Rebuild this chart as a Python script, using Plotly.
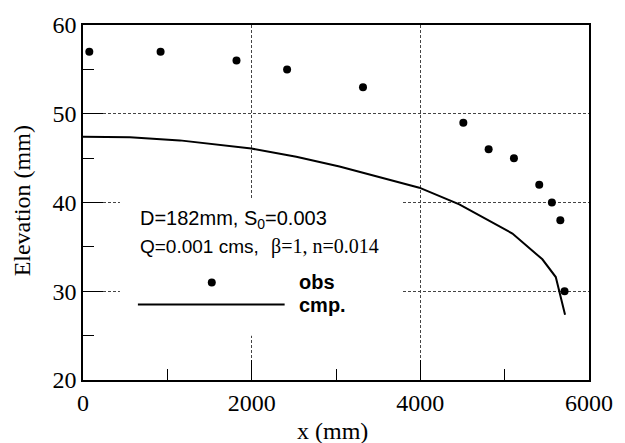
import plotly.graph_objects as go

# observed water surface elevations
obs_x = [75, 920, 1820, 2420, 3320, 4510, 4810, 5110, 5410, 5560, 5660, 5710]
obs_y = [57, 57, 56, 55, 53, 49, 46, 45, 42, 40, 38, 30]

# computed profile
cmp_x = [0, 24, 556, 1148, 1996, 2529, 3041, 3988, 4462, 5092, 5447, 5606, 5716]
cmp_y = [47.4, 47.4, 47.36, 47.0, 46.08, 45.16, 44.05, 41.67, 39.8, 36.5, 33.6, 31.6, 27.35]

x_ticks = [0, 2000, 4000, 6000]
y_ticks = [20, 30, 40, 50, 60]

serif = "Liberation Serif, Times New Roman, serif"
sans = "Liberation Sans, Arial, sans-serif"

fig = go.Figure()

fig.add_trace(go.Scatter(x=obs_x, y=obs_y, mode="markers",
                         marker=dict(color="black", size=8), showlegend=False))
fig.add_trace(go.Scatter(x=cmp_x, y=cmp_y, mode="lines",
                         line=dict(color="black", width=2), showlegend=False))

# legend box content (drawn inside the plot)
fig.add_shape(type="rect", x0=438, x1=3775, y0=25, y1=40.4, xref="x", yref="y",
              fillcolor="white", line=dict(width=0), layer="between")
fig.add_trace(go.Scatter(x=[1527], y=[31.0], mode="markers",
                         marker=dict(color="black", size=8), showlegend=False))
fig.add_trace(go.Scatter(x=[651, 2391], y=[28.5, 28.5], mode="lines",
                         line=dict(color="black", width=2), showlegend=False))

fig.add_annotation(x=651, y=38.1, xref="x", yref="y", xanchor="left", yanchor="middle",
                   text="D=182mm, S<sub>0</sub>=0.003", showarrow=False,
                   font=dict(family=sans, size=20, color="black"))
fig.add_annotation(x=651, y=35.0, xref="x", yref="y", xanchor="left", yanchor="middle",
                   text="Q=0.001 cms,", showarrow=False,
                   font=dict(family=sans, size=19, color="black"))
fig.add_annotation(x=2201, y=35.0, xref="x", yref="y", xanchor="left", yanchor="middle",
                   text="β=1, n=0.014", showarrow=False,
                   font=dict(family=serif, size=20, color="black"))
fig.add_annotation(x=2533, y=31.0, xref="x", yref="y", xanchor="left", yanchor="middle",
                   text="<b>obs</b>", showarrow=False,
                   font=dict(family=sans, size=20, color="black"))
fig.add_annotation(x=2533, y=28.5, xref="x", yref="y", xanchor="left", yanchor="middle",
                   text="<b>cmp.</b>", showarrow=False,
                   font=dict(family=sans, size=20, color="black"))

# axis titles
fig.add_annotation(x=-0.12, y=0.504, xref="paper", yref="paper", xanchor="center",
                   yanchor="middle", textangle=-90, text="Elevation (mm)", showarrow=False,
                   font=dict(family=serif, size=24, color="black"))
fig.add_annotation(x=0.494, y=-0.143, xref="paper", yref="paper", xanchor="center",
                   yanchor="middle", text="x (mm)", showarrow=False,
                   font=dict(family=serif, size=24, color="black"))

axis_common = dict(showline=True, linecolor="black", linewidth=1.5, mirror=True,
                   ticks="inside", ticklen=20, tickwidth=1, tickcolor="black",
                   showgrid=True, gridcolor="#444", gridwidth=1, griddash="3px,2px",
                   zeroline=False, tickfont=dict(family=serif, size=24, color="black"))

fig.update_xaxes(range=[0, 6000], tickvals=x_ticks, ticktext=[str(v) for v in x_ticks],
                 minor=dict(ticks="inside", ticklen=11, tickcolor="black", dtick=1000,
                            tick0=0, showgrid=False),
                 **axis_common)
fig.update_yaxes(range=[20, 60], tickvals=y_ticks, ticktext=[str(v) for v in y_ticks],
                 minor=dict(ticks="inside", ticklen=11, tickcolor="black", dtick=5,
                            tick0=0, showgrid=False),
                 **axis_common)

fig.update_layout(width=625, height=443, margin=dict(l=83, r=35, t=17, b=63),
                  plot_bgcolor="white", paper_bgcolor="white", showlegend=False)

fig.write_html("out.html", config={"displayModeBar": False},
               post_script="document.body.style.margin='0';document.body.style.overflow='hidden';")
